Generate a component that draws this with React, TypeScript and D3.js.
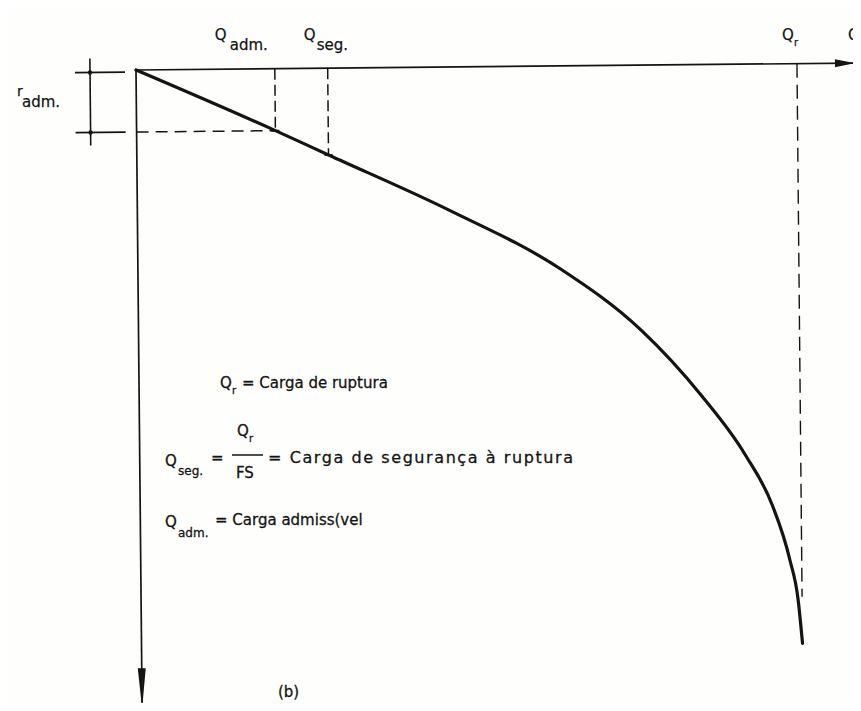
import React from "react";
import * as d3 from "d3";

// Load–settlement curve of a pile load test (Q = load, r = settlement)
const loads = [0, 21, 29, 47, 64, 76, 85, 91.6, 95.6, 98.2, 99.4, 100];
const settlements = [0, 10, 14, 23, 32.8, 42.7, 53.3, 63, 71.1, 80, 86.5, 93.5];

// Characteristic loads and the allowable settlement
const markerNames = ["adm.", "seg.", "r"];
const markerLoads = [21, 29, 100];
const markerSettlements = [10, 14, 86];
const allowableSettlement = 10;

const legendLines = [
  "= Carga de ruptura",
  "= Carga de segurança à ruptura",
  "= Carga admiss(vel",
];

const W = 861;
const H = 711;
const OX = 136;
const OY = 70;

const x = d3.scaleLinear().domain([0, 100]).range([OX, 797]);
const y = d3.scaleLinear().domain([0, 100]).range([OY, 690]);

const curve = d3
  .line<number>()
  .x((i) => x(loads[i]))
  .y((i) => y(settlements[i]))
  .curve(d3.curveMonotoneX);

const ink = "#141414";
const font = "'DejaVu Sans', Verdana, sans-serif";

export default function App() {
  const idx = loads.map((_, i) => i);
  const [qAdm, qSeg, qR] = markerLoads;
  const [rAdmPt, rSegPt, rRPt] = markerSettlements;
  return (
    <svg width={W} height={H} style={{ display: "block", margin: "-8px", background: "#fefefc" }}>
      <g transform={`rotate(-0.55, ${OX}, ${OY})`}>
        {/* horizontal (load) axis */}
        <line x1={OX} y1={OY} x2={W + 10} y2={OY} stroke={ink} strokeWidth={1.7} />
        <path d={`M${x(100) + 38},${OY - 4} L${x(100) + 58},${OY} L${x(100) + 38},${OY + 4} Z`} fill={ink} />
        {/* vertical (settlement) axis */}
        <line x1={OX} y1={OY} x2={OX} y2={y(102)} stroke={ink} strokeWidth={1.7} />
        <path d={`M${OX - 4},${y(96.5)} L${OX},${y(103)} L${OX + 4},${y(96.5)} Z`} fill={ink} />

        {/* allowable-settlement dimension */}
        <line x1={90} y1={OY - 12} x2={90} y2={y(allowableSettlement) + 13} stroke={ink} strokeWidth={1.6} />
        <line x1={75} y1={OY + 2} x2={125} y2={OY + 2} stroke={ink} strokeWidth={1.6} />
        <line x1={75} y1={y(allowableSettlement)} x2={125} y2={y(allowableSettlement)} stroke={ink} strokeWidth={1.6} />
        <circle cx={90} cy={OY + 2} r={2.2} fill={ink} />
        <circle cx={90} cy={y(allowableSettlement)} r={2.2} fill={ink} />

        {/* reference dashed lines */}
        <line x1={OX} y1={y(allowableSettlement)} x2={x(qAdm)} y2={y(allowableSettlement)}
          stroke={ink} strokeWidth={1.5} strokeDasharray="12,7" />
        <line x1={x(qAdm)} y1={OY} x2={x(qAdm)} y2={y(rAdmPt)} stroke={ink} strokeWidth={1.5} strokeDasharray="11,5" />
        <line x1={x(qSeg)} y1={OY} x2={x(qSeg)} y2={y(rSegPt)} stroke={ink} strokeWidth={1.5} strokeDasharray="11,5" />
        <line x1={x(qR)} y1={OY} x2={x(qR)} y2={y(rRPt)} stroke={ink} strokeWidth={1.4} strokeDasharray="14,7" />

        {/* load–settlement curve */}
        <path d={curve(idx) ?? ""} fill="none" stroke={ink} strokeWidth={3.2} strokeLinecap="round" />
        <line x1={x(qAdm) - 4} y1={y(rAdmPt)} x2={x(qAdm) + 4} y2={y(rAdmPt)} stroke={ink} strokeWidth={2} />
        <line x1={x(qSeg) - 4} y1={y(rSegPt)} x2={x(qSeg) + 4} y2={y(rSegPt)} stroke={ink} strokeWidth={2} />
      </g>

      {/* axis labels */}
      <g fontFamily={font} fill={ink} stroke={ink} strokeWidth={0.25}>
        <text x={x(qAdm) - 60} y={40} fontSize={15}>Q</text>
        <text x={x(qAdm) - 45} y={50} fontSize={15}>{markerNames[0]}</text>
        <text x={x(qSeg) - 24} y={40} fontSize={15}>Q</text>
        <text x={x(qSeg) - 11} y={50} fontSize={15}>{markerNames[1]}</text>
        <text x={x(qR) - 15} y={40} fontSize={15}>Q</text>
        <text x={x(qR) - 3} y={46} fontSize={10}>{markerNames[2]}</text>
        <text x={848} y={40} fontSize={15}>Q</text>
        <text x={17} y={96} fontSize={14}>r</text>
        <text x={22} y={107} fontSize={15}>adm.</text>
      </g>

      {/* definitions */}
      <g fontFamily={font} fill={ink} stroke={ink} strokeWidth={0.3}>
        <text x={220} y={388} fontSize={15}>Q</text>
        <text x={232} y={394} fontSize={10}>r</text>
        <text x={242} y={388} fontSize={15}>{legendLines[0]}</text>

        <text x={165} y={466} fontSize={15}>Q</text>
        <text x={178} y={475} fontSize={12}>seg.</text>
        <text x={211} y={463} fontSize={15}>=</text>
        <text x={237} y={436} fontSize={15}>Q</text>
        <text x={249} y={442} fontSize={10}>r</text>
        <line x1={232} y1={455} x2={263} y2={455} stroke={ink} strokeWidth={1.5} />
        <text x={236} y={478} fontSize={15}>FS</text>
        <text x={268} y={463} fontSize={16} textLength={305} lengthAdjust="spacing">{legendLines[1]}</text>

        <text x={165} y={527} fontSize={15}>Q</text>
        <text x={178} y={537} fontSize={12}>adm.</text>
        <text x={215} y={525} fontSize={15}>{legendLines[2]}</text>

        <text x={278} y={697} fontSize={15}>(b)</text>
      </g>
    </svg>
  );
}
